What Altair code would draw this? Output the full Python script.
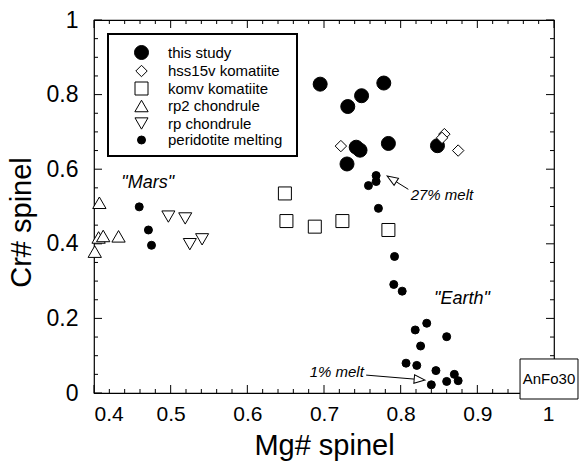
import altair as alt
import pandas as pd

# ---------------- data ----------------
series_names = ["this study", "hss15v komatiite", "komv komatiite",
                "rp2 chondrule", "rp chondrule", "peridotite melting"]

study_x = [0.695, 0.778, 0.749, 0.731, 0.742, 0.747, 0.784, 0.730, 0.848]
study_y = [0.828, 0.831, 0.797, 0.768, 0.659, 0.651, 0.669, 0.614, 0.663]

hss_x = [0.722, 0.857, 0.854, 0.875]
hss_y = [0.662, 0.694, 0.684, 0.650]

komv_x = [0.649, 0.651, 0.688, 0.724, 0.784]
komv_y = [0.535, 0.461, 0.446, 0.461, 0.437]

rp2_x = [0.407, 0.401, 0.406, 0.412, 0.432]
rp2_y = [0.510, 0.379, 0.417, 0.421, 0.420]

rp_x = [0.497, 0.519, 0.525, 0.541]
rp_y = [0.473, 0.468, 0.399, 0.412]

per_x = [0.459, 0.471, 0.475, 0.768, 0.768, 0.758, 0.771, 0.792, 0.791, 0.802,
         0.819, 0.834, 0.860, 0.826, 0.807, 0.821, 0.846, 0.870, 0.840, 0.860, 0.875]
per_y = [0.499, 0.437, 0.396, 0.583, 0.567, 0.556, 0.495, 0.366, 0.291, 0.273,
         0.169, 0.187, 0.151, 0.126, 0.080, 0.074, 0.060, 0.050, 0.022, 0.031, 0.033]

x_major = [0.4, 0.5, 0.6, 0.7, 0.8, 0.9, 1.0]
x_minor = [0.42, 0.44, 0.46, 0.48, 0.52, 0.54, 0.56, 0.58, 0.62, 0.64, 0.66, 0.68,
           0.72, 0.74, 0.76, 0.78, 0.82, 0.84, 0.86, 0.88, 0.92, 0.94, 0.96, 0.98]
y_major = [0.0, 0.2, 0.4, 0.6, 0.8, 1.0]
y_minor = [0.05, 0.1, 0.15, 0.25, 0.3, 0.35, 0.45, 0.5, 0.55, 0.65, 0.7, 0.75,
           0.85, 0.9, 0.95]

# annotations (data coordinates)
label_text = ['"Mars"', '"Earth"', "27% melt", "1% melt"]
label_x = [0.470, 0.880, 0.813, 0.752]
label_y = [0.563, 0.251, 0.531, 0.056]
label_align = ["center", "center", "left", "right"]
label_size = [18, 18, 15, 15]

arrow_tail_x = [0.810, 0.755]
arrow_tail_y = [0.546, 0.048]
arrow_base_x = [0.7944, 0.8176]
arrow_base_y = [0.566, 0.0373]
arrow_head_x = [0.789, 0.8239]
arrow_head_y = [0.573, 0.0362]
arrow_angle = [302, 95]

box_text = ["AnFo30"]
box_x1, box_x2 = [0.9557], [1.0313]
box_y1, box_y2 = [0.0912], [-0.0161]
box_tx, box_ty = [0.9935], [0.0362]

# ---------------- tables ----------------
rows = []
for name, xs, ys in zip(series_names,
                        [study_x, hss_x, komv_x, rp2_x, rp_x, per_x],
                        [study_y, hss_y, komv_y, rp2_y, rp_y, per_y]):
    for a, b in zip(xs, ys):
        rows.append({"series": name, "x": a, "y": b})
pts = pd.DataFrame(rows)

W, H = 460, 373
FONT = "Liberation Sans"

xscale = alt.Scale(domain=[0.4, 1.0], nice=False, zero=False)
yscale = alt.Scale(domain=[0, 1], nice=False, zero=False)
xaxis = alt.Axis(title="Mg# spinel", values=x_major, format="~g", ticks=False,
                 tickSize=0, domain=False, grid=False, labelFontSize=21,
                 labelPadding=10, labelFont=FONT, labelColor="black",
                 titleFont=FONT, titleFontSize=29, titleFontWeight="normal",
                 titleColor="black", titleY=61, titleBaseline="alphabetic")
yaxis = alt.Axis(title="Cr# spinel", values=y_major, format="~g", ticks=False,
                 tickSize=0, domain=False, grid=False, labelFontSize=23,
                 labelPadding=16, labelFont=FONT, labelColor="black",
                 titleFont=FONT, titleFontSize=29, titleFontWeight="normal",
                 titleColor="black", titleX=-64, titleY=202, titleAngle=270,
                 titleBaseline="alphabetic")


def X(f):
    return alt.X(f, type="quantitative", scale=xscale, axis=xaxis)


def Y(f):
    return alt.Y(f, type="quantitative", scale=yscale, axis=yaxis)


shapes = ["circle", "diamond", "square", "triangle-up", "triangle-down", "circle"]
fills = ["black", "white", "white", "white", "white", "black"]
strokes = ["black"] * 6
sizes = [196, 130, 169, 177, 170, 64]

legend = alt.Legend(orient="none", legendX=40, legendY=25, title=None,
                    labelFont=FONT, labelFontSize=15, labelColor="black",
                    labelOffset=19, rowPadding=0.5, padding=0,
                    symbolStrokeColor="black", symbolStrokeWidth=1)

points = alt.Chart(pts).mark_point(filled=True, strokeWidth=1, opacity=1).encode(
    x=X("x"), y=Y("y"),
    shape=alt.Shape("series:N", scale=alt.Scale(domain=series_names, range=shapes),
                    legend=legend),
    fill=alt.Fill("series:N", scale=alt.Scale(domain=series_names, range=fills),
                  legend=legend),
    stroke=alt.Stroke("series:N", scale=alt.Scale(domain=series_names, range=strokes),
                      legend=legend),
    size=alt.Size("series:N", scale=alt.Scale(type="ordinal", domain=series_names,
                                              range=sizes), legend=legend),
)

# ticks (inward, on all four sides)
xmaj = pd.DataFrame({"v": x_major})
xmin = pd.DataFrame({"v": x_minor})
ymaj = pd.DataFrame({"v": y_major})
ymin = pd.DataFrame({"v": y_minor})
tick_layers = []
for df, L in [(xmaj, 8), (xmin, 4)]:
    tick_layers.append(alt.Chart(df).mark_rule(color="black", strokeWidth=1).encode(
        x=X("v"), y=alt.value(H), y2=alt.value(H - L)))
    tick_layers.append(alt.Chart(df).mark_rule(color="black", strokeWidth=1).encode(
        x=X("v"), y=alt.value(0), y2=alt.value(L)))
for df, L in [(ymaj, 8), (ymin, 4)]:
    tick_layers.append(alt.Chart(df).mark_rule(color="black", strokeWidth=1).encode(
        y=Y("v"), x=alt.value(0), x2=alt.value(L)))
    tick_layers.append(alt.Chart(df).mark_rule(color="black", strokeWidth=1).encode(
        y=Y("v"), x=alt.value(W), x2=alt.value(W - L)))

# legend frame
legend_box = alt.Chart(pd.DataFrame({"a": [0]})).mark_rect(
    fill="white", stroke="black", strokeWidth=2).encode(
    x=alt.value(14), x2=alt.value(203), y=alt.value(14), y2=alt.value(136))

# annotations
labels = pd.DataFrame({"t": label_text, "x": label_x, "y": label_y,
                       "al": label_align, "fs": label_size})
text_layers = []
for al in ["center", "left", "right"]:
    sub = labels[labels["al"] == al]
    for fs in sorted(sub["fs"].unique()):
        s2 = sub[sub["fs"] == fs]
        text_layers.append(alt.Chart(s2).mark_text(
            font=FONT, fontStyle="italic", fontSize=int(fs), align=al,
            baseline="middle", color="black").encode(x=X("x"), y=Y("y"), text="t:N"))

arrows = pd.DataFrame({"x1": arrow_tail_x, "y1": arrow_tail_y,
                       "x2": arrow_base_x, "y2": arrow_base_y,
                       "hx": arrow_head_x, "hy": arrow_head_y, "ang": arrow_angle})
arrow_lines = alt.Chart(arrows).mark_rule(color="black", strokeWidth=1).encode(
    x=X("x1"), y=Y("y1"), x2="x2:Q", y2="y2:Q")
arrow_heads = alt.Chart(arrows).mark_point(
    shape="M0,-1L0.7,0.8L-0.7,0.8Z", filled=True, fill="white", stroke="black",
    strokeWidth=1, size=144, opacity=1).encode(
    x=X("hx"), y=Y("hy"), angle=alt.Angle("ang:Q", scale=None))

boxdf = pd.DataFrame({"t": box_text, "x1": box_x1, "x2": box_x2, "y1": box_y1,
                      "y2": box_y2, "tx": box_tx, "ty": box_ty})
anbox = alt.Chart(boxdf).mark_rect(fill="white", stroke="black", strokeWidth=1).encode(
    x=X("x1"), x2="x2:Q", y=Y("y1"), y2="y2:Q")
antext = alt.Chart(boxdf).mark_text(font=FONT, fontSize=15, color="black",
                                    align="center", baseline="middle").encode(
    x=X("tx"), y=Y("ty"), text="t:N")

chart = alt.layer(
    *tick_layers, legend_box, points, *text_layers, arrow_lines, arrow_heads,
    anbox, antext
).properties(
    width=W, height=H,
    autosize=alt.AutoSizeParams(type="none"),
    padding={"left": 94, "top": 20, "right": 26, "bottom": 71},
    background="white",
).configure_view(stroke="black", strokeWidth=1.2)

chart.save("out.html", embed_options={"renderer": "svg", "actions": False})
